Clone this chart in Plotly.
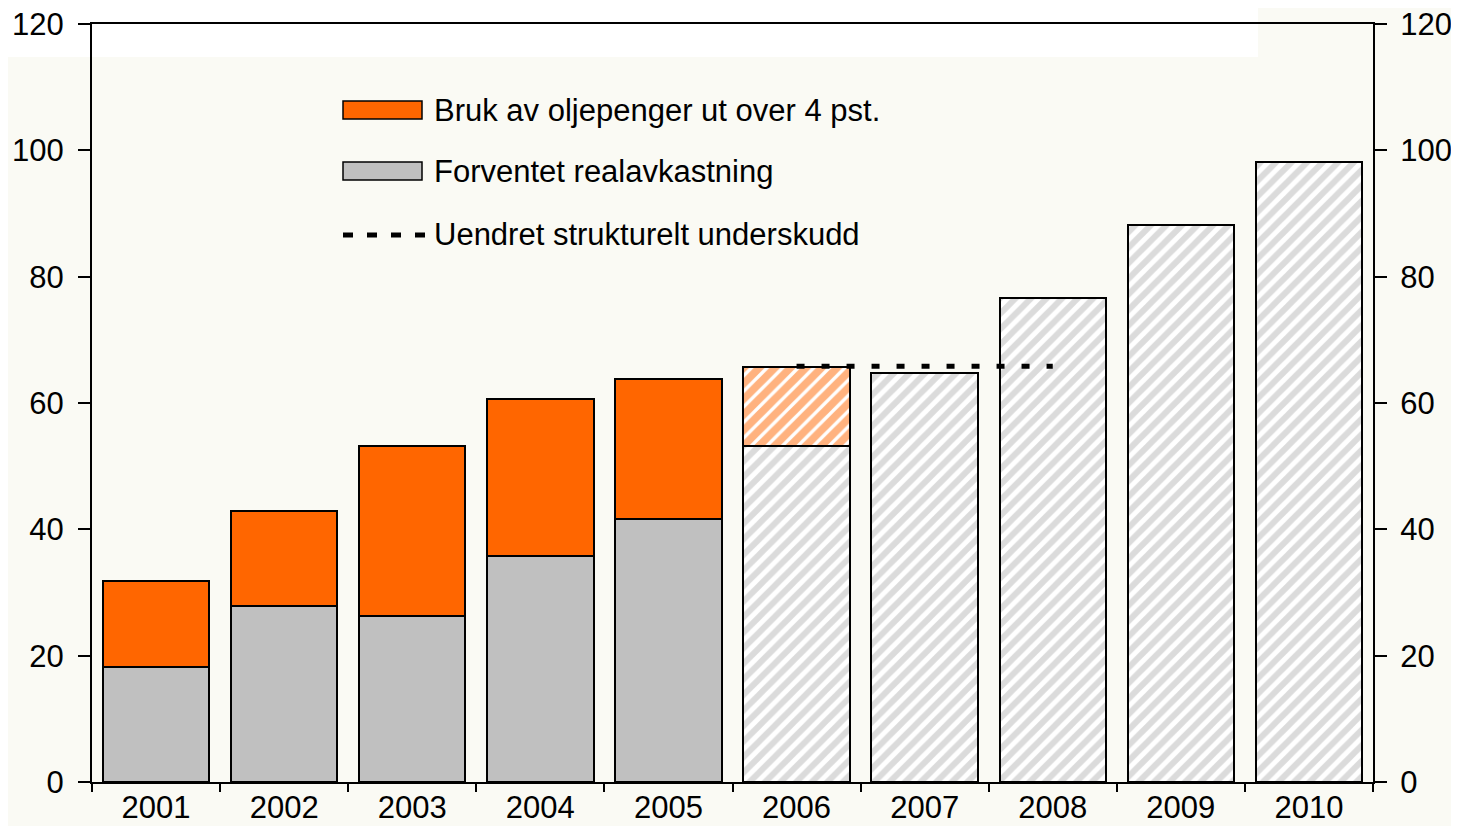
import plotly.graph_objects as go

years = ["2001", "2002", "2003", "2004", "2005", "2006", "2007", "2008", "2009", "2010"]
forventet = [18.2, 27.9, 26.3, 35.8, 41.6, 53.2, 64.7, 76.6, 88.2, 98.1]
bruk = [13.6, 15.0, 26.9, 24.8, 22.2, 12.5, None, None, None, None]
hatched = [False, False, False, False, False, True, True, True, True, True]
line_years = ["2006", "2007", "2008"]
line_vals = [65.8, 65.8, 65.8]
yticks = [0, 20, 40, 60, 80, 100, 120]

ORANGE = "#FF6600"
GRAY = "#C0C0C0"
HATCH_GRAY = "#B8B8B8"
BG = "#FAFAF4"
FONT = "Liberation Sans, Arial, sans-serif"
FS = 31


def pick(vals, want_hatched):
    return [v if h == want_hatched else None for v, h in zip(vals, hatched)]


fig = go.Figure()
# solid gray (historical)
fig.add_trace(go.Bar(
    x=years, y=pick(forventet, False), name="Forventet realavkastning",
    marker=dict(color=GRAY, line=dict(color="black", width=2)),
    showlegend=False,
))
# hatched gray (projections)
fig.add_trace(go.Bar(
    x=years, y=pick(forventet, True), name="Forventet realavkastning (anslag)",
    marker=dict(color="white", line=dict(color="black", width=2),
                pattern=dict(shape="/", fgcolor=HATCH_GRAY, bgcolor="white",
                             size=11, solidity=0.55)),
    showlegend=False,
))
# solid orange
fig.add_trace(go.Bar(
    x=years, y=pick(bruk, False), name="Bruk av oljepenger ut over 4 pst.",
    marker=dict(color=ORANGE, line=dict(color="black", width=2)),
    showlegend=False,
))
# hatched orange
fig.add_trace(go.Bar(
    x=years, y=pick(bruk, True), name="Bruk av oljepenger ut over 4 pst. (anslag)",
    marker=dict(color="white", line=dict(color="black", width=2),
                pattern=dict(shape="/", fgcolor=ORANGE, bgcolor="white",
                             size=11, solidity=0.7)),
    showlegend=False,
))
fig.add_trace(go.Scatter(
    x=line_years, y=line_vals, mode="lines", yaxis="y2",
    line=dict(color="black", width=5, dash="8px,17px"),
    name="Uendret strukturelt underskudd", showlegend=False,
))

# page has an 8px body margin; place the plot area at the reference pixel positions
OFF = 8
W, H = 1459 - 2 * OFF, 834 - 2 * OFF
L, T = 92 - OFF, 24 - OFF
pw, ph = 1281, 758
R, B = W - L - pw, H - T - ph


def px(x):
    return (x - 92) / pw


def py(y):
    return (782 - y) / ph


shapes = [
    dict(type="rect", xref="paper", yref="paper", x0=px(OFF), x1=px(1258), y0=py(57), y1=py(OFF),
         fillcolor="white", line=dict(width=0), layer="below"),
    dict(type="rect", xref="paper", yref="paper", x0=px(343), x1=px(422), y0=py(119), y1=py(101),
         fillcolor=ORANGE, line=dict(color="black", width=1.5)),
    dict(type="rect", xref="paper", yref="paper", x0=px(343), x1=px(422), y0=py(180), y1=py(162),
         fillcolor=GRAY, line=dict(color="black", width=1.5)),
    dict(type="line", xref="paper", yref="paper", x0=px(343), x1=px(425), y0=py(235), y1=py(235),
         line=dict(color="black", width=5, dash="10px,14px")),
]
legend_texts = ["Bruk av oljepenger ut over 4 pst.", "Forventet realavkastning", "Uendret strukturelt underskudd"]
legend_y = [110, 171, 234]
annotations = [
    dict(xref="paper", yref="paper", x=px(432), y=py(yy), text=t, showarrow=False,
         xanchor="left", yanchor="middle", font=dict(size=FS, color="black", family=FONT))
    for t, yy in zip(legend_texts, legend_y)
]

axis_common = dict(showline=True, linecolor="black", linewidth=2, ticks="outside",
                   tickcolor="black", tickwidth=2, showgrid=False, zeroline=False,
                   automargin=False, ticklabeloverflow="allow",
                   tickfont=dict(size=FS, color="black", family=FONT))

fig.update_layout(
    width=W, height=H,
    margin=dict(l=L, r=R, t=T, b=B, pad=0, autoexpand=False),
    paper_bgcolor=BG, plot_bgcolor="rgba(0,0,0,0)",
    barmode="stack", bargap=0.17,
    font=dict(family=FONT, color="black"),
    xaxis=dict(type="category", tickson="boundaries", ticklen=8, mirror=True,
               ticklabelstandoff=-3, **axis_common),
    yaxis=dict(range=[0, 120], tickvals=yticks, ticklen=12, ticklabelstandoff=8,
               **axis_common),
    yaxis2=dict(range=[0, 120], tickvals=yticks, ticklen=12, overlaying="y", side="right",
                ticklabelstandoff=7, **axis_common),
    shapes=shapes, annotations=annotations,
    showlegend=False,
)

fig.write_html("out.html")
